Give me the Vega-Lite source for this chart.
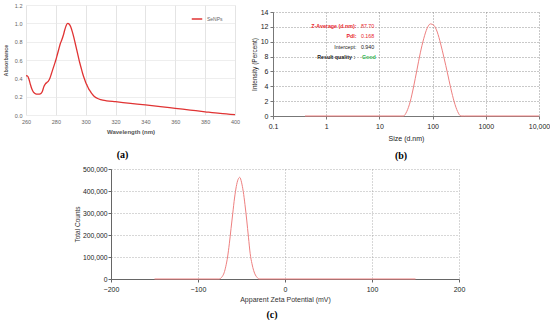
{
  "$schema": "https://vega.github.io/schema/vega-lite/v6.json",
  "padding": {"left": 3, "top": 3, "right": 0, "bottom": 0},
  "background": "white",
  "spacing": 5,
  "resolve": {"scale": {"color": "independent"}, "legend": {"color": "independent"}},
  "datasets": {
    "uv": [
      {"wl": 260, "abs": 0.43}, {"wl": 261, "abs": 0.425}, {"wl": 262, "abs": 0.39}, {"wl": 263, "abs": 0.33},
      {"wl": 264, "abs": 0.28}, {"wl": 265, "abs": 0.25}, {"wl": 266, "abs": 0.235}, {"wl": 267, "abs": 0.228},
      {"wl": 268, "abs": 0.227}, {"wl": 269, "abs": 0.228}, {"wl": 270, "abs": 0.235}, {"wl": 271, "abs": 0.26},
      {"wl": 272, "abs": 0.31}, {"wl": 273, "abs": 0.34}, {"wl": 274, "abs": 0.355}, {"wl": 275, "abs": 0.37},
      {"wl": 276, "abs": 0.4}, {"wl": 277, "abs": 0.45}, {"wl": 278, "abs": 0.5}, {"wl": 279, "abs": 0.55},
      {"wl": 280, "abs": 0.6}, {"wl": 281, "abs": 0.66}, {"wl": 282, "abs": 0.72}, {"wl": 283, "abs": 0.78},
      {"wl": 284, "abs": 0.82}, {"wl": 285, "abs": 0.87}, {"wl": 286, "abs": 0.93}, {"wl": 287, "abs": 0.98},
      {"wl": 288, "abs": 1.0}, {"wl": 289, "abs": 0.99}, {"wl": 290, "abs": 0.96}, {"wl": 291, "abs": 0.91},
      {"wl": 292, "abs": 0.85}, {"wl": 293, "abs": 0.78}, {"wl": 294, "abs": 0.71}, {"wl": 295, "abs": 0.64},
      {"wl": 296, "abs": 0.57}, {"wl": 297, "abs": 0.51}, {"wl": 298, "abs": 0.45}, {"wl": 299, "abs": 0.4},
      {"wl": 300, "abs": 0.355}, {"wl": 301, "abs": 0.32}, {"wl": 302, "abs": 0.285}, {"wl": 303, "abs": 0.26},
      {"wl": 304, "abs": 0.235}, {"wl": 305, "abs": 0.215}, {"wl": 306, "abs": 0.2}, {"wl": 308, "abs": 0.18},
      {"wl": 310, "abs": 0.168}, {"wl": 314, "abs": 0.155}, {"wl": 320, "abs": 0.145}, {"wl": 330, "abs": 0.127},
      {"wl": 340, "abs": 0.11}, {"wl": 350, "abs": 0.092}, {"wl": 360, "abs": 0.073}, {"wl": 370, "abs": 0.054},
      {"wl": 380, "abs": 0.035}, {"wl": 390, "abs": 0.017}, {"wl": 400, "abs": 0.003}
    ],
    "dls": [
      {"size": 0.4, "pct": 0}, {"size": 24.36, "pct": 0}, {"size": 28.21, "pct": 0}, {"size": 32.67, "pct": 0.6},
      {"size": 37.84, "pct": 1.9}, {"size": 43.82, "pct": 3.9}, {"size": 50.75, "pct": 6.2}, {"size": 58.77, "pct": 8.5},
      {"size": 68.06, "pct": 10.4}, {"size": 78.82, "pct": 11.8}, {"size": 91.28, "pct": 12.4}, {"size": 105.7, "pct": 12.2},
      {"size": 122.4, "pct": 11.3}, {"size": 141.8, "pct": 9.7}, {"size": 164.2, "pct": 7.8}, {"size": 190.1, "pct": 5.8},
      {"size": 220.2, "pct": 3.7}, {"size": 255.0, "pct": 1.9}, {"size": 295.3, "pct": 0.6}, {"size": 342.0, "pct": 0},
      {"size": 396.1, "pct": 0}, {"size": 10000, "pct": 0}
    ],
    "notes": [
      {"label": "Z-Average (d.nm):", "value": "87.70", "pct": 12.1},
      {"label": "PdI:", "value": "0.168", "pct": 10.75},
      {"label": "Intercept:", "value": "0.940", "pct": 9.35},
      {"label": "Result quality :", "value": "Good", "pct": 8.0}
    ],
    "zeta": [
      {"mv": -150, "counts": 0}, {"mv": -76, "counts": 0}, {"mv": -74, "counts": 3000}, {"mv": -72, "counts": 12000},
      {"mv": -70, "counts": 28000}, {"mv": -68, "counts": 58000}, {"mv": -66, "counts": 100000}, {"mv": -64, "counts": 160000},
      {"mv": -62, "counts": 230000}, {"mv": -60, "counts": 300000}, {"mv": -58, "counts": 368000}, {"mv": -56, "counts": 420000},
      {"mv": -54, "counts": 452000}, {"mv": -52, "counts": 462000}, {"mv": -50, "counts": 440000}, {"mv": -48, "counts": 398000},
      {"mv": -46, "counts": 338000}, {"mv": -44, "counts": 268000}, {"mv": -42, "counts": 190000}, {"mv": -40, "counts": 115000},
      {"mv": -38, "counts": 70000}, {"mv": -36, "counts": 38000}, {"mv": -34, "counts": 18000}, {"mv": -32, "counts": 7000},
      {"mv": -30, "counts": 0}, {"mv": 150, "counts": 0}
    ],
    "empty": []
  },
  "vconcat": [
    {
      "spacing": 11,
      "resolve": {"scale": {"color": "independent"}, "legend": {"color": "independent"}},
      "hconcat": [
        {
          "width": 209,
          "height": 110,
          "title": {"text": "(a)", "orient": "bottom", "frame": "group", "font": "Liberation Serif", "fontSize": 10, "fontWeight": "bold", "color": "#000", "offset": 15, "dx": -8},
          "data": {"name": "uv"},
          "transform": [{"calculate": "'SeNPs'", "as": "series"}],
          "mark": {"type": "line", "strokeWidth": 1.3, "interpolate": "monotone"},
          "encoding": {
            "x": {"field": "wl", "type": "quantitative", "scale": {"domain": [260, 400], "nice": false},
              "axis": {"title": "Wavelength (nm)", "values": [260, 280, 300, 320, 340, 360, 380, 400], "labelFlush": false, "labelOverlap": false,
                "domain": false, "ticks": false, "grid": true, "gridColor": "#d9d9d9", "gridWidth": 0.7,
                "labelFont": "Liberation Sans", "labelFontSize": 5.5, "labelColor": "#666", "labelPadding": 4,
                "titleFont": "Liberation Sans", "titleFontSize": 6, "titleFontWeight": "bold", "titleColor": "#555", "titlePadding": 4}},
            "y": {"field": "abs", "type": "quantitative", "scale": {"domain": [0, 1.2], "nice": false},
              "axis": {"title": "Absorbance", "values": [0, 0.2, 0.4, 0.6, 0.8, 1.0, 1.2], "format": ".1f", "labelFlush": false, "labelOverlap": false,
                "domain": false, "ticks": false, "grid": true, "gridColor": "#e6e6e6", "gridWidth": 0.7,
                "labelFont": "Liberation Sans", "labelFontSize": 5.5, "labelColor": "#666", "labelPadding": 4,
                "titleFont": "Liberation Sans", "titleFontSize": 5.5, "titleFontWeight": "bold", "titleColor": "#555", "titlePadding": 6}},
            "color": {"field": "series", "type": "nominal", "scale": {"domain": ["SeNPs"], "range": ["#e03333"]},
              "legend": {"title": null, "orient": "none", "legendX": 165, "legendY": 8, "symbolType": "stroke", "symbolSize": 110, "symbolStrokeWidth": 1.5,
                "labelFont": "Liberation Sans", "labelFontSize": 5, "labelColor": "#666", "padding": 0}}
          }
        },
        {
          "spacing": 0,
          "vconcat": [
            {"width": 1, "height": 3, "data": {"name": "empty"}, "mark": {"type": "point", "opacity": 0}, "encoding": {}},
            {
              "width": 266,
              "height": 104,
              "title": {"text": "(b)", "orient": "bottom", "frame": "group", "font": "Liberation Serif", "fontSize": 10, "fontWeight": "bold", "color": "#000", "offset": 10, "dx": -5},
              "encoding": {
                "x": {"field": "size", "type": "quantitative", "scale": {"type": "log", "domain": [0.1, 10000], "nice": false},
                  "axis": {"title": "Size (d.nm)", "values": [0.1, 1, 10, 100, 1000, 10000], "labelExpr": "datum.value == 10000 ? '10,000' : '' + datum.value",
                    "labelFlush": false, "labelOverlap": false, "domainColor": "#777", "tickColor": "#777", "tickSize": 3,
                    "grid": true, "gridDash": [1, 2], "gridColor": "#777", "gridWidth": 0.8,
                    "labelFont": "Liberation Sans", "labelFontSize": 7, "labelColor": "#222", "labelPadding": 3,
                    "titleFont": "Liberation Sans", "titleFontSize": 7, "titleFontWeight": "normal", "titleColor": "#222", "titlePadding": 5}},
                "y": {"field": "pct", "type": "quantitative", "scale": {"domain": [0, 14], "nice": false},
                  "axis": {"title": "Intensity (Percent)", "values": [0, 2, 4, 6, 8, 10, 12, 14], "labelFlush": false, "labelOverlap": false,
                    "domainColor": "#777", "tickColor": "#777", "tickSize": 3,
                    "grid": true, "gridDash": [1, 2], "gridColor": "#777", "gridWidth": 0.8,
                    "labelFont": "Liberation Sans", "labelFontSize": 7, "labelColor": "#222", "labelPadding": 2,
                    "titleFont": "Liberation Sans", "titleFontSize": 6.5, "titleFontWeight": "normal", "titleColor": "#222", "titlePadding": 3}}
              },
              "layer": [
                {
                  "data": {"name": "dls"},
                  "mark": {"type": "line", "color": "#ee8080", "strokeWidth": 1, "interpolate": "monotone"}
                },
                {
                  "data": {"name": "notes"},
                  "transform": [{"filter": "datum.label == 'Z-Average (d.nm):' || datum.label == 'PdI:'"}, {"calculate": "3.7", "as": "size"}],
                  "mark": {"type": "text", "align": "right", "baseline": "middle", "font": "Liberation Sans", "fontSize": 5.3, "fontWeight": "bold", "color": "#e8262e"},
                  "encoding": {"text": {"field": "label"}}
                },
                {
                  "data": {"name": "notes"},
                  "transform": [{"filter": "datum.label == 'Result quality :'"}, {"calculate": "3.5", "as": "size"}],
                  "mark": {"type": "text", "align": "right", "baseline": "middle", "font": "Liberation Sans", "fontSize": 5.3, "fontWeight": "bold", "color": "#222"},
                  "encoding": {"text": {"field": "label"}}
                },
                {
                  "data": {"name": "notes"},
                  "transform": [{"filter": "datum.label == 'Intercept:'"}, {"calculate": "3.7", "as": "size"}],
                  "mark": {"type": "text", "align": "right", "baseline": "middle", "font": "Liberation Sans", "fontSize": 5.3, "color": "#222"},
                  "encoding": {"text": {"field": "label"}}
                },
                {
                  "data": {"name": "notes"},
                  "transform": [{"filter": "datum.value == '87.70' || datum.value == '0.168'"}, {"calculate": "4.5", "as": "size"}],
                  "mark": {"type": "text", "align": "left", "baseline": "middle", "font": "Liberation Sans", "fontSize": 5.3, "color": "#e8262e"},
                  "encoding": {"text": {"field": "value"}}
                },
                {
                  "data": {"name": "notes"},
                  "transform": [{"filter": "datum.value == '0.940'"}, {"calculate": "4.5", "as": "size"}],
                  "mark": {"type": "text", "align": "left", "baseline": "middle", "font": "Liberation Sans", "fontSize": 5.3, "color": "#222"},
                  "encoding": {"text": {"field": "value"}}
                },
                {
                  "data": {"name": "notes"},
                  "transform": [{"filter": "datum.value == 'Good'"}, {"calculate": "4.7", "as": "size"}],
                  "mark": {"type": "text", "align": "left", "baseline": "middle", "font": "Liberation Sans", "fontSize": 5.3, "fontWeight": "bold", "color": "#2cb44e"},
                  "encoding": {"text": {"field": "value"}}
                }
              ]
            }
          ]
        }
      ]
    },
    {
      "spacing": 0,
      "hconcat": [
        {"width": 48, "height": 1, "data": {"name": "empty"}, "mark": {"type": "point", "opacity": 0}, "encoding": {}},
        {
          "width": 348,
          "height": 110,
          "title": {"text": "(c)", "orient": "bottom", "frame": "group", "font": "Liberation Serif", "fontSize": 10, "fontWeight": "bold", "color": "#000", "offset": 8, "dx": -13},
          "data": {"name": "zeta"},
          "mark": {"type": "line", "color": "#ee8080", "strokeWidth": 1, "interpolate": "monotone"},
          "encoding": {
            "x": {"field": "mv", "type": "quantitative", "scale": {"domain": [-200, 200], "nice": false},
              "axis": {"title": "Apparent Zeta Potential (mV)", "values": [-200, -100, 0, 100, 200], "labelFlush": false, "labelOverlap": false,
                "domainColor": "#666", "tickColor": "#666", "tickSize": 3,
                "grid": true, "gridDash": [1, 2], "gridColor": "#999", "gridWidth": 0.8,
                "labelFont": "Liberation Sans", "labelFontSize": 7, "labelColor": "#222", "labelPadding": 3,
                "titleFont": "Liberation Sans", "titleFontSize": 7, "titleFontWeight": "normal", "titleColor": "#333", "titlePadding": 3}},
            "y": {"field": "counts", "type": "quantitative", "scale": {"domain": [0, 500000], "nice": false},
              "axis": {"title": "Total Counts", "values": [0, 100000, 200000, 300000, 400000, 500000], "labelExpr": "format(datum.value, ',')", "labelFlush": false, "labelOverlap": false,
                "domainColor": "#666", "tickColor": "#666", "tickSize": 3,
                "grid": true, "gridDash": [1, 2], "gridColor": "#999", "gridWidth": 0.8,
                "labelFont": "Liberation Sans", "labelFontSize": 6.8, "labelColor": "#222", "labelPadding": 1,
                "titleFont": "Liberation Sans", "titleFontSize": 6.5, "titleFontWeight": "normal", "titleColor": "#333", "titlePadding": 2}}
          }
        }
      ]
    }
  ],
  "config": {"view": {"stroke": null}}
}
